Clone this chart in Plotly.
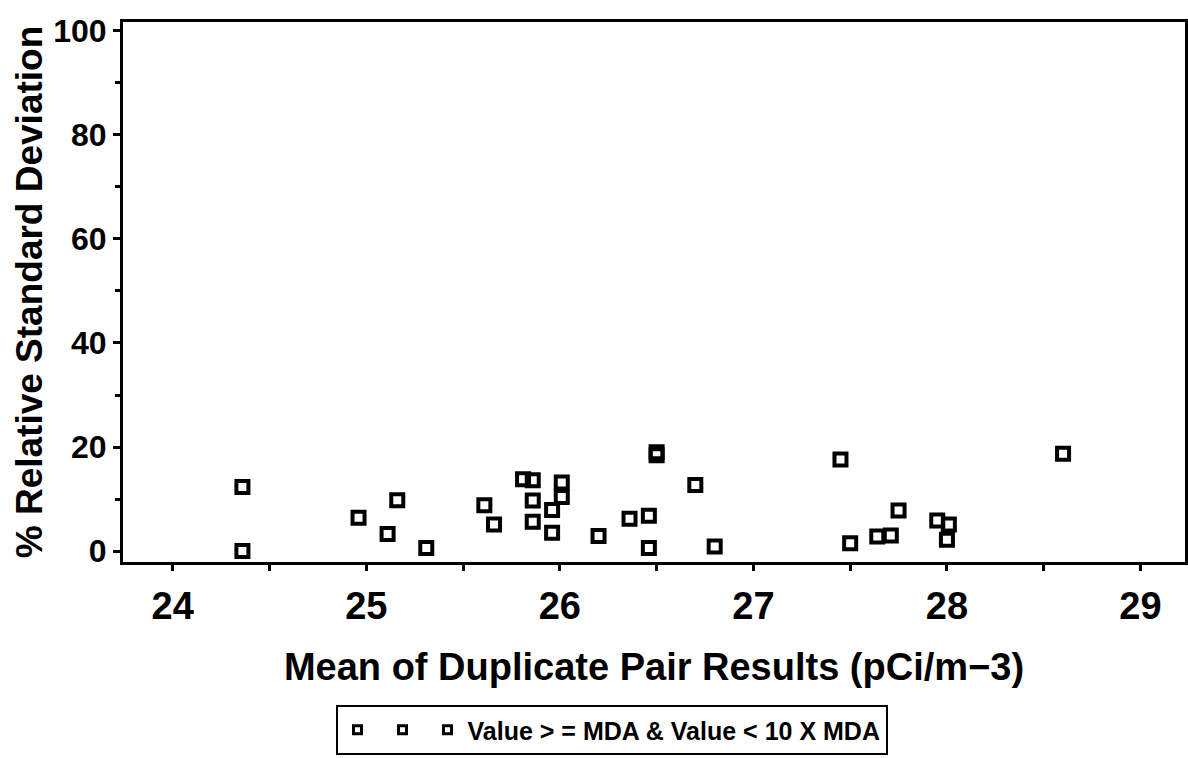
import plotly.graph_objects as go

# Data
mean_pair = [24.36, 24.36, 24.96, 25.11, 25.16, 25.31, 25.61, 25.66,
             25.81, 25.86, 25.86, 25.86, 25.96, 25.96, 26.01, 26.01,
             26.20, 26.36, 26.46, 26.46, 26.50, 26.50, 26.70, 26.80,
             27.45, 27.50, 27.64, 27.71, 27.75, 27.95, 28.01, 28.00, 28.60]
pct_rsd = [12.3, 0.0, 6.4, 3.3, 9.75, 0.6, 8.8, 5.1,
           13.8, 13.6, 9.7, 5.65, 7.9, 3.5, 13.2, 10.4,
           2.9, 6.2, 6.8, 0.6, 18.4, 19.0, 12.7, 0.9,
           17.6, 1.5, 2.8, 3.0, 7.8, 5.9, 5.1, 2.2, 18.7]
series_name = "Value > = MDA & Value < 10 X MDA"
x_title = "Mean of Duplicate Pair Results (pCi/m\u22123)"
y_title = "% Relative Standard Deviation"

FONT = "Liberation Sans, Arial, sans-serif"
marker = dict(symbol="square-open", size=12, color="black",
              line=dict(color="black", width=4))
key_marker = dict(symbol="square-open", size=8, color="black",
                  line=dict(color="black", width=3))

fig = go.Figure()
fig.add_trace(go.Scatter(x=mean_pair, y=pct_rsd, mode="markers",
                         marker=marker, name=series_name, showlegend=False))
# legend key "□ □ □ Value ..." (three small squares)
key_names = ["", "", series_name]
for nm in key_names:
    fig.add_trace(go.Scatter(x=[None], y=[None], mode="markers", marker=key_marker,
                             name=nm, showlegend=True, hoverinfo="skip"))

axis_common = dict(showline=True, mirror=True, linecolor="black", linewidth=3,
                   showgrid=False, zeroline=False, ticks="outside",
                   tickcolor="black", tickwidth=2.5, automargin=False)

fig.update_xaxes(range=[23.743, 29.23], dtick=1, tick0=24, ticklen=6,
                 minor=dict(dtick=0.5, ticks="outside", ticklen=6,
                            tickwidth=2.5, tickcolor="black"),
                 ticklabelstandoff=2,
                 tickfont=dict(family=FONT, size=38, color="black", weight="bold"),
                 title=dict(text=x_title, standoff=28,
                            font=dict(family=FONT, size=38, color="black", weight="bold")),
                 **axis_common)
fig.update_yaxes(range=[-2.1, 101.7], dtick=20, tick0=0, ticklen=7,
                 minor=dict(dtick=10, ticks="outside", ticklen=5,
                            tickwidth=2.5, tickcolor="black"),
                 ticklabelstandoff=0,
                 tickfont=dict(family=FONT, size=32, color="black", weight="bold"),
                 title=dict(text=y_title, standoff=0,
                            font=dict(family=FONT, size=37, color="black", weight="bold")),
                 **axis_common)

fig.update_layout(
    width=1188, height=758,
    margin=dict(l=123, r=3, t=22, b=196, autoexpand=False),
    paper_bgcolor="white", plot_bgcolor="white",
    showlegend=True,
    legend=dict(orientation="h", x=0.46, xanchor="center", y=-0.265,
                yanchor="top", bordercolor="black", borderwidth=2,
                font=dict(family=FONT, size=25, color="black", weight="bold"),
                itemwidth=30, tracegroupgap=0),
)

fig.write_html("out.html", config={"displayModeBar": False},
               post_script="document.body.style.margin='0';")
